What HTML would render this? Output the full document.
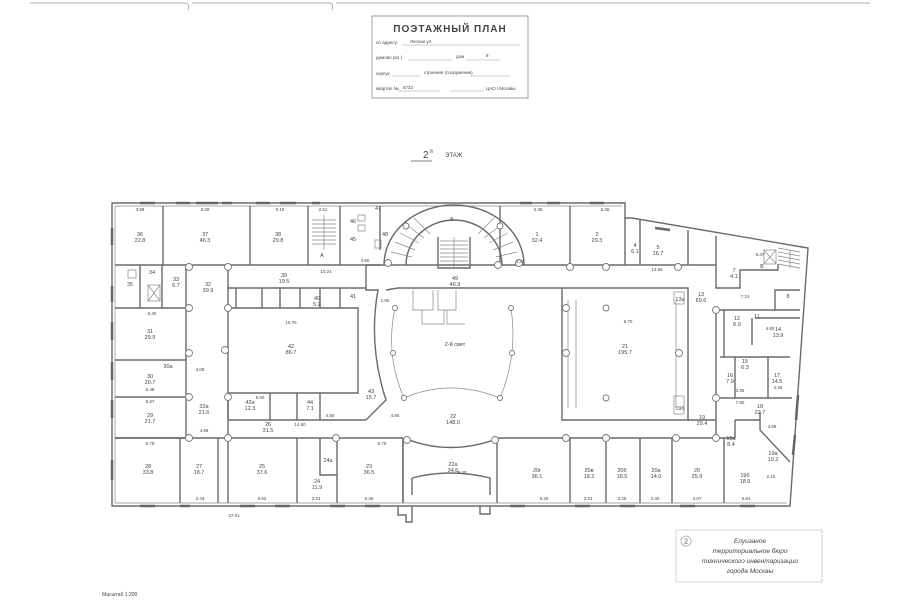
<!DOCTYPE html>
<html><head><meta charset="utf-8"><style>
html,body{margin:0;padding:0;background:#fff;}
svg{display:block}
text{font-family:"Liberation Sans","DejaVu Sans",sans-serif;fill:#444}
.w{stroke:#6a6a6a;stroke-width:1.4;fill:none}
.t{stroke:#888;stroke-width:0.7;fill:none}
.c{stroke:#777;stroke-width:0.9;fill:#fff}
.l{font-size:5.5px;text-anchor:middle}
.d{font-size:4.5px;text-anchor:middle;fill:#777}
</style></head><body>
<svg width="900" height="604" viewBox="0 0 900 604" xmlns="http://www.w3.org/2000/svg">
<path d="M30 3 L185 3 Q190 4 188 10 M192 3 L330 3 Q334 4 332 10 M336 3 L870 3" stroke="#999" stroke-width="0.8" fill="none"/>
<rect x="372" y="16" width="156" height="82" fill="#fff" stroke="#888" stroke-width="0.8"/>
<text x="450" y="32" font-size="10" font-weight="bold" text-anchor="middle" fill="#666" letter-spacing="1">ПОЭТАЖНЫЙ ПЛАН</text>
<g font-size="4.5" fill="#777">
<text x="376" y="44">по адресу:</text><text x="410" y="43">Лесная ул.</text>
<line x1="402" y1="45" x2="520" y2="45" stroke="#999" stroke-width="0.5"/>
<text x="376" y="59">домовл.(вл.)</text><text x="456" y="58">дом</text><text x="486" y="57">8</text>
<line x1="408" y1="60" x2="452" y2="60" stroke="#999" stroke-width="0.5"/><line x1="466" y1="60" x2="500" y2="60" stroke="#999" stroke-width="0.5"/>
<text x="376" y="75">корпус</text><text x="424" y="74">строение (сооружение)</text>
<line x1="392" y1="76" x2="420" y2="76" stroke="#999" stroke-width="0.5"/><line x1="470" y1="76" x2="510" y2="76" stroke="#999" stroke-width="0.5"/>
<text x="376" y="90">квартал №</text><text x="403" y="89">6732</text><text x="486" y="90">ЦАО г.Москвы</text>
<line x1="398" y1="91" x2="440" y2="91" stroke="#999" stroke-width="0.5"/><line x1="450" y1="91" x2="484" y2="91" stroke="#999" stroke-width="0.5"/>
</g>
<text x="423" y="158" font-size="10" fill="#444">2</text><text x="430" y="153" font-size="5" fill="#444">й</text>
<text x="445" y="157" font-size="6" fill="#555">ЭТАЖ</text>
<line x1="411" y1="161" x2="432" y2="161" stroke="#555" stroke-width="0.8"/>

<path class="w" stroke-width="2.2" d="M112 203 L625 203 L625 218 L632 218 L808 248 L790 506 L112 506 Z"/>
<path class="t" d="M115 206 L622 206 M787 503 L115 503 L115 206"/>
<g stroke="#666" stroke-width="2.5">
<line x1="140" y1="203" x2="155" y2="203"/><line x1="176" y1="203" x2="190" y2="203"/><line x1="196" y1="203" x2="218" y2="203"/><line x1="222" y1="203" x2="232" y2="203"/><line x1="256" y1="203" x2="270" y2="203"/><line x1="280" y1="203" x2="296" y2="203"/><line x1="312" y1="203" x2="320" y2="203"/><line x1="520" y1="203" x2="532" y2="203"/><line x1="547" y1="203" x2="560" y2="203"/><line x1="590" y1="203" x2="604" y2="203"/><line x1="655" y1="228" x2="670" y2="230"/>
<line x1="112" y1="286" x2="112" y2="302"/><line x1="112" y1="322" x2="112" y2="340"/><line x1="112" y1="362" x2="112" y2="380"/><line x1="112" y1="400" x2="112" y2="418"/><line x1="112" y1="460" x2="112" y2="480"/><line x1="112" y1="228" x2="112" y2="245"/>
<line x1="140" y1="506" x2="155" y2="506"/><line x1="180" y1="506" x2="190" y2="506"/><line x1="240" y1="506" x2="255" y2="506"/><line x1="275" y1="506" x2="290" y2="506"/><line x1="330" y1="506" x2="345" y2="506"/><line x1="365" y1="506" x2="380" y2="506"/><line x1="510" y1="506" x2="525" y2="506"/><line x1="575" y1="506" x2="590" y2="506"/><line x1="620" y1="506" x2="635" y2="506"/><line x1="680" y1="506" x2="695" y2="506"/><line x1="740" y1="506" x2="755" y2="506"/>
<line x1="796" y1="420" x2="798" y2="395"/><line x1="793" y1="455" x2="795" y2="435"/>
</g>
<path class="w" d="M398 506 L398 515 L406 515 L406 522 L412 522 L412 506 M480 506 L480 514 L490 514 L490 506"/>

<g class="w">
<path d="M163 206 L163 265 M250 206 L250 265 M308 206 L308 265 M340 206 L340 265 M380 206 L380 250"/>
<path d="M115 265 L366 265 M340 265 L380 265"/>
<path d="M115 308 L186 308 M115 360 L186 360 M115 397 L186 397 M115 438 L186 438"/>
<path d="M186 265 L186 438 M228 265 L228 438"/>
<path d="M228 288 L366 288 M228 308 L358 308 L358 393 L228 393"/>
<path d="M228 420 L366 420 M228 393 L228 420 M270 393 L270 420 M297 393 L297 420 M320 393 L320 420"/>
<path d="M115 438 L403 438"/>
<path d="M180 438 L180 503 M218 438 L218 503 M228 438 L228 503 M297 438 L297 503 M337 438 L337 503 M403 438 L403 503"/>
<path d="M140 265 L140 308 M162 265 L162 308"/>
<path d="M236 288 L236 308 M262 288 L262 308 M280 288 L280 308 M300 288 L300 308 M320 288 L320 308 M340 288 L340 308"/>
<path d="M366 265 L366 290 L378 290 Q368 345 386 400 L366 420"/>
<path d="M320 438 L320 475 L337 475"/>
</g>
<g class="t"><path d="M312 220 L336 220 M312 224 L336 224 M312 228 L336 228 M312 232 L336 232 M312 236 L336 236 M312 240 L336 240 M312 244 L336 244 M324 215 L324 250"/>
<rect x="148" y="285" width="12" height="16"/><path d="M148 285 L160 301 M160 285 L148 301"/>
<rect x="128" y="270" width="8" height="8"/><rect x="764" y="250" width="12" height="14"/><path d="M764 250 L776 264 M776 250 L764 264"/>
<rect x="358" y="215" width="7" height="6"/><rect x="358" y="225" width="7" height="6"/><rect x="375" y="240" width="6" height="8"/>
</g>
<g class="w">
<path d="M384 265 A70 60 0 0 1 524 265"/>
<path d="M406 265 A48 45 0 0 1 502 265"/>
<path d="M438 237 L438 268 L470 268 L470 237"/>
</g>
<g class="t">
<path d="M391 252 L412 257 M395 242 L415 250 M400 233 L419 243 M407 225 L424 238 M414 218 L430 234 M494 218 L478 234 M501 225 L484 238 M508 233 L489 243 M513 242 L493 250 M517 252 L496 257"/>
<path d="M440 241 L468 241 M440 245 L468 245 M440 249 L468 249 M440 253 L468 253 M440 257 L468 257 M440 261 L468 261 M454 237 L454 268"/>
</g>
<g class="w">
<path d="M366 265 L625 265 M398 288 L512 288 M398 288 L386 290"/>
<path d="M512 288 L562 288 M562 288 L562 420 L688 420 L688 288 L562 288"/>
<path d="M403 438 L403 503 M497 438 L497 503"/>
<path d="M409 440 Q450 455 494 440"/>
<path d="M412 478 Q450 468 490 478 L490 495 M412 478 L412 495"/>
</g>
<g class="t">
<path d="M395 308 Q385 355 404 398 Q450 378 500 398 Q518 355 511 308"/>
<path d="M413 290 L413 310 L433 310 L433 290 M438 290 L438 310 L456 310 L456 290 M422 310 L422 324 L444 324 L444 310 M447 310 L447 324 L465 324"/>
<path d="M568 300 L568 408 M576 300 L576 408 M676 300 L676 408"/>
<rect x="674" y="292" width="10" height="12"/><rect x="674" y="396" width="10" height="18"/>
</g>
<g class="w">
<path d="M500 206 L500 265 M570 206 L570 265 M625 218 L625 265 M640 220 L640 265 M688 230 L688 265 M716 236 L716 265"/>
<path d="M625 265 L716 265 M716 265 L716 288 L740 288 L740 270 L778 270 L778 264"/>
<path d="M716 310 L800 310 M716 310 L716 438"/>
<path d="M724 310 L724 357 M752 318 L752 345 M755 318 L800 318 M720 357 L790 357 M735 357 L735 398 M768 357 L768 398 M720 398 L792 398"/>
<path d="M775 310 L775 290 L800 290"/>
<path d="M688 420 L716 420 M497 438 L735 438"/>
<path d="M570 438 L570 503 M606 438 L606 503 M640 438 L640 503 M672 438 L672 503 M724 438 L724 503"/>
<path d="M735 420 L735 438 M735 420 L760 420 L760 430 L790 462 M760 420 L760 412"/>
</g>
<g class="t">
<path d="M778 248 L800 252 M778 252 L800 256 M778 256 L800 260 M778 260 L800 264 M778 264 L800 268 M790 250 L790 268"/>
</g>
<g class="c">
<circle cx="189" cy="267" r="3.5"/><circle cx="228" cy="267" r="3.5"/><circle cx="189" cy="308" r="3.5"/><circle cx="228" cy="308" r="3.5"/>
<circle cx="189" cy="353" r="3.5"/><circle cx="225" cy="350" r="3.5"/><circle cx="189" cy="397" r="3.5"/><circle cx="228" cy="397" r="3.5"/>
<circle cx="189" cy="438" r="3.5"/><circle cx="228" cy="438" r="3.5"/><circle cx="336" cy="438" r="3.5"/>
<circle cx="388" cy="263" r="3.5"/><circle cx="519" cy="263" r="3.5"/><circle cx="406" cy="226" r="3"/><circle cx="500" cy="226" r="3"/>
<circle cx="395" cy="308" r="2.5"/><circle cx="511" cy="308" r="2.5"/><circle cx="393" cy="353" r="2.5"/><circle cx="512" cy="353" r="2.5"/><circle cx="404" cy="398" r="2.5"/><circle cx="500" cy="398" r="2.5"/>
<circle cx="407" cy="440" r="3.5"/><circle cx="495" cy="440" r="3.5"/>
<circle cx="570" cy="267" r="3.5"/><circle cx="606" cy="267" r="3.5"/><circle cx="678" cy="267" r="3.5"/><circle cx="498" cy="265" r="3.5"/>
<circle cx="566" cy="308" r="3.5"/><circle cx="566" cy="353" r="3.5"/><circle cx="679" cy="353" r="3.5"/><circle cx="606" cy="308" r="3"/><circle cx="606" cy="398" r="3"/>
<circle cx="566" cy="438" r="3.5"/><circle cx="606" cy="438" r="3.5"/><circle cx="676" cy="438" r="3.5"/><circle cx="716" cy="438" r="3.5"/>
<circle cx="716" cy="398" r="3.5"/><circle cx="716" cy="310" r="3.5"/>
</g>
<g class="l">
<text x="140" y="236">36</text><text x="140" y="242">22.8</text>
<text x="205" y="236">37</text><text x="205" y="242">46.3</text>
<text x="278" y="236">38</text><text x="278" y="242">29.8</text>
<text x="322" y="257">А</text><text x="353" y="223">46</text><text x="353" y="241">45</text><text x="385" y="236">48</text><text x="378" y="210">47</text>
<text x="152" y="274">34</text><text x="130" y="286">35</text><text x="176" y="281">33</text><text x="176" y="287">6.7</text>
<text x="208" y="286">32</text><text x="208" y="292">39.9</text>
<text x="284" y="277">39</text><text x="284" y="283">19.5</text><text x="317" y="300">40</text><text x="317" y="306">5.2</text>
<text x="353" y="298">41</text>
<text x="150" y="333">31</text><text x="150" y="339">29.9</text>
<text x="150" y="378">30</text><text x="150" y="384">20.7</text><text x="168" y="368">30а</text>
<text x="150" y="417">29</text><text x="150" y="423">21.7</text>
<text x="204" y="408">32а</text><text x="204" y="414">21.6</text>
<text x="291" y="348">42</text><text x="291" y="354">86.7</text>
<text x="250" y="404">42а</text><text x="250" y="410">12.3</text><text x="310" y="404">44</text><text x="310" y="410">7.1</text>
<text x="371" y="393">43</text><text x="371" y="399">15.7</text>
<text x="268" y="426">26</text><text x="268" y="432">31.5</text>
<text x="148" y="468">28</text><text x="148" y="474">33.8</text>
<text x="199" y="468">27</text><text x="199" y="474">18.7</text>
<text x="262" y="468">25</text><text x="262" y="474">37.6</text>
<text x="317" y="483">24</text><text x="317" y="489">11.9</text><text x="328" y="462">24а</text>
<text x="369" y="468">23</text><text x="369" y="474">36.5</text>
<text x="452" y="221">Б</text><text x="455" y="280">49</text><text x="455" y="286">46.9</text>
<text x="455" y="346">2-й свет</text>
<text x="453" y="418">22</text><text x="453" y="424">148.0</text>
<text x="453" y="466">22а</text><text x="453" y="472">34.6</text>
<text x="537" y="236">1</text><text x="537" y="242">32.4</text>
<text x="597" y="236">2</text><text x="597" y="242">29.3</text>
<text x="635" y="247">4</text><text x="635" y="253">6.1</text>
<text x="658" y="249">5</text><text x="658" y="255">16.7</text>
<text x="734" y="272">7</text><text x="734" y="278">4.1</text><text x="762" y="268">В</text>
<text x="701" y="296">13</text><text x="701" y="302">69.6</text><text x="680" y="301">13а</text>
<text x="625" y="348">21</text><text x="625" y="354">195.7</text><text x="680" y="410">19б</text>
<text x="702" y="419">19</text><text x="702" y="425">29.4</text>
<text x="737" y="320">12</text><text x="737" y="326">6.9</text><text x="757" y="318">11</text><text x="788" y="298">8</text>
<text x="778" y="331">14</text><text x="778" y="337">13.9</text>
<text x="745" y="363">15</text><text x="745" y="369">6.3</text>
<text x="730" y="377">16</text><text x="730" y="383">7.9</text>
<text x="777" y="377">17</text><text x="777" y="383">14.5</text>
<text x="760" y="408">18</text><text x="760" y="414">22.7</text>
<text x="731" y="440">19а</text><text x="731" y="446">8.4</text>
<text x="773" y="455">19а</text><text x="773" y="461">19.2</text>
<text x="745" y="477">19б</text><text x="745" y="483">18.9</text>
<text x="537" y="472">20г</text><text x="537" y="478">36.1</text>
<text x="589" y="472">20в</text><text x="589" y="478">18.2</text>
<text x="622" y="472">20б</text><text x="622" y="478">18.5</text>
<text x="656" y="472">20а</text><text x="656" y="478">14.0</text>
<text x="697" y="472">20</text><text x="697" y="478">25.9</text>
</g>
<g class="d">
<text x="140" y="211">3.98</text><text x="205" y="211">8.09</text><text x="280" y="211">5.19</text><text x="323" y="211">2.61</text>
<text x="365" y="262">4.50</text><text x="538" y="211">6.36</text><text x="605" y="211">5.06</text><text x="520" y="263">4.32</text>
<text x="657" y="271">13.84</text><text x="760" y="256">6.47</text>
<text x="152" y="315">6.40</text><text x="150" y="403">5.87</text><text x="150" y="391">6.48</text><text x="150" y="445">5.78</text>
<text x="200" y="371">4.08</text><text x="204" y="432">4.95</text><text x="291" y="324">10.75</text><text x="326" y="273">10.24</text>
<text x="260" y="399">5.60</text><text x="300" y="426">14.60</text><text x="330" y="417">4.80</text><text x="382" y="445">5.75</text>
<text x="200" y="500">3.43</text><text x="262" y="500">6.62</text><text x="316" y="500">3.23</text><text x="369" y="500">6.36</text>
<text x="234" y="517">27.01</text><text x="462" y="474">8.20</text><text x="544" y="500">6.25</text><text x="588" y="500">3.23</text>
<text x="622" y="500">3.25</text><text x="655" y="500">2.30</text><text x="697" y="500">4.07</text><text x="746" y="500">5.81</text>
<text x="628" y="323">9.70</text><text x="745" y="298">7.24</text><text x="770" y="330">4.80</text><text x="778" y="389">4.26</text>
<text x="740" y="392">3.35</text><text x="740" y="404">7.80</text><text x="772" y="428">4.69</text><text x="771" y="478">2.15</text>
<text x="385" y="302">1.96</text><text x="395" y="417">4.80</text>
</g>
<rect x="676" y="530" width="146" height="52" fill="none" stroke="#ccc" stroke-width="0.8"/>
<circle cx="686" cy="541" r="5" fill="none" stroke="#aaa" stroke-width="0.8"/>
<text x="686" y="543.5" font-size="7" text-anchor="middle" fill="#999">2</text>
<g font-size="6.5" fill="#b5b5b5" font-style="italic" text-anchor="middle">
<text x="750" y="543">Елуизаное</text>
<text x="750" y="553">территориальное бюро</text>
<text x="750" y="563">технического инвентаризации</text>
<text x="750" y="573">города Москвы</text>
</g>
<text x="102" y="596" font-size="5" fill="#555">Масштаб 1:200</text>
</svg>
</body></html>
